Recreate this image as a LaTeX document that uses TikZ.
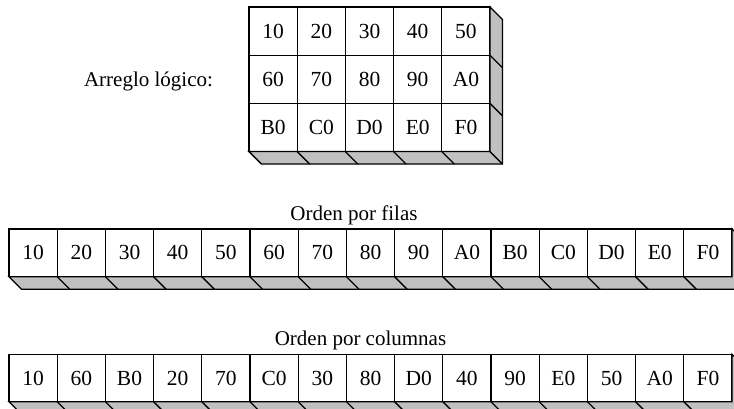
\documentclass[tikz,border=0pt]{standalone}
\usepackage{fontspec}
\setmainfont{Liberation Serif}
\definecolor{ALShade}{HTML}{C0C0C0}
\tikzset{
  cell/.style={draw,fill=white,line width=1.3pt,minimum width=48.2pt,minimum height=48.2pt,
    inner sep=0pt,outer sep=0pt,anchor=north west,font=\fontsize{21.5}{24}\selectfont},
  shadeface/.style={draw,fill=ALShade,line width=1.3pt,line join=miter},
  divider/.style={line width=1.3pt},
  caption/.style={anchor=base,inner sep=0pt,font=\fontsize{21}{24}\selectfont}
}
\begin{document}
\begin{tikzpicture}[x=1pt,y=-1pt]
\path[use as bounding box] (0,0) rectangle (734,409);
% logical array
\node[caption] (lbl-grid) at (148.5,87) {Arreglo lógico:};
\foreach \row [count=\r] in {{10,20,30,40,50},{60,70,80,90,A0},{B0,C0,D0,E0,F0}}
  \foreach \v [count=\c] in \row
    \node[cell] (g-\r-\c) at ({249+(\c-1)*48.2},{7+(\r-1)*48.2}) {\v};
\draw[shadeface] (g-3-1.south west) -- ++(12.5,12.5) -- ([shift={(12.5,12.5)}]g-3-5.south east)
  -- ([shift={(12.5,12.5)}]g-1-5.north east) -- (g-1-5.north east) -- (g-3-5.south east) -- cycle;
\foreach \c in {2,...,5}
  \draw[divider] (g-3-\c.south west) -- ++(12.5,12.5);
\foreach \r in {2,3}
  \draw[divider] (g-\r-5.north east) -- ++(12.5,12.5);
\draw[divider] (g-3-5.south east) -- ++(12.5,12.5);
% row-major order
\node[caption] (lbl-rows) at (354,220) {Orden por filas};
\foreach \v [count=\c] in {10,20,30,40,50,60,70,80,90,A0,B0,C0,D0,E0,F0}
  \node[cell,minimum height=47.7pt] (f-\c) at ({9+(\c-1)*48.2},229) {\v};
\draw[shadeface] (f-1.south west) -- ++(12.5,12.5) -- ([shift={(12.5,12.5)}]f-15.south east)
  -- ([shift={(12.5,12.5)}]f-15.north east) -- (f-15.north east) -- (f-15.south east) -- cycle;
\foreach \c in {2,...,15}
  \draw[divider] (f-\c.south west) -- ++(12.5,12.5);
% column-major order
\node[caption] (lbl-cols) at (360.5,345) {Orden por columnas};
\foreach \v [count=\c] in {10,60,B0,20,70,C0,30,80,D0,40,90,E0,50,A0,F0}
  \node[cell,minimum height=47.4pt] (k-\c) at ({9+(\c-1)*48.2},354.3) {\v};
\draw[shadeface] (k-1.south west) -- ++(12.5,12.5) -- ([shift={(12.5,12.5)}]k-15.south east)
  -- ([shift={(12.5,12.5)}]k-15.north east) -- (k-15.north east) -- (k-15.south east) -- cycle;
\foreach \c in {2,...,15}
  \draw[divider] (k-\c.south west) -- ++(12.5,12.5);
\end{tikzpicture}
\end{document}
